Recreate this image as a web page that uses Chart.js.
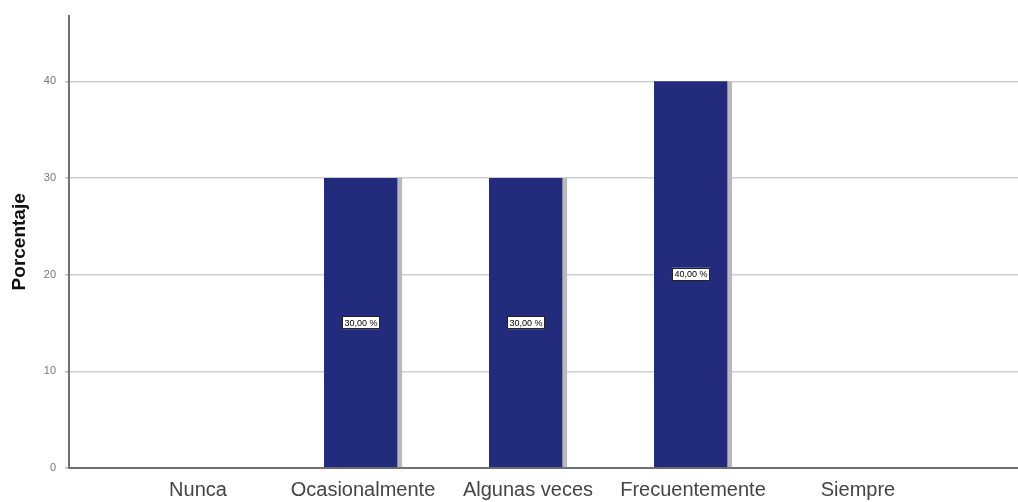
<!DOCTYPE html>
<html><head><meta charset="utf-8">
<script src="https://cdn.jsdelivr.net/npm/chart.js@4"></script>
<style>html,body{margin:0;padding:0;background:#fff;}#wrap{width:1018px;height:502px;}</style>
</head><body><div id="wrap"><canvas id="c" width="1018" height="502"></canvas></div>
<script>
const categories = ["Nunca", "Ocasionalmente", "Algunas veces", "Frecuentemente", "Siempre"];
const percentages = [0, 30, 30, 40, 0];
const valueLabels = ["", "30,00 %", "30,00 %", "40,00 %", ""];
const yTicks = [0, 10, 20, 30, 40];

const points = categories.map((c, i) => ({x: i, y: percentages[i]}));

const labelPlugin = {
  id: 'valLabels',
  afterDatasetsDraw(chart) {
    const ctx = chart.ctx;
    const meta = chart.getDatasetMeta(0);
    ctx.save();
    ctx.font = '9px "Liberation Sans", Arial, sans-serif';
    ctx.textAlign = 'center';
    ctx.textBaseline = 'middle';
    meta.data.forEach((bar, i) => {
      if (!valueLabels[i] || percentages[i] === 0) return;
      const cx = bar.x - 2;
      const cy = (bar.y + bar.base) / 2;
      const w = 38, h = 13;
      ctx.fillStyle = '#ffffff';
      ctx.fillRect(cx - w / 2, cy - h / 2, w, h);
      ctx.strokeStyle = '#222';
      ctx.lineWidth = 1;
      ctx.strokeRect(Math.round(cx - w / 2) + 0.5, Math.round(cy - h / 2) + 0.5, w - 1, h - 1);
      ctx.fillStyle = '#000';
      ctx.fillText(valueLabels[i], cx, cy + 0.5);
    });
    ctx.restore();
  }
};

new Chart(document.getElementById('c'), {
  type: 'bar',
  data: {
    datasets: [{
      data: points,
      backgroundColor: '#232b7c',
      borderColor: '#b9b9bd',
      borderWidth: {left: 0, top: 0, bottom: 0, right: 5},
      borderSkipped: false,
      barThickness: 78
    }]
  },
  plugins: [labelPlugin],
  options: {
    responsive: false,
    animation: false,
    layout: {padding: {top: 14, right: 0, bottom: 0, left: 0}},
    plugins: {legend: {display: false}, tooltip: {enabled: false}},
    scales: {
      x: {
        type: 'linear',
        offset: false,
        min: -0.782,
        max: 4.97,
        afterBuildTicks(axis) { axis.ticks = categories.map((c, i) => ({value: i})); },
        afterFit(axis) { axis.height = 34; },
        ticks: {
          callback: (v) => categories[v],
          color: '#444',
          font: {family: '"Liberation Sans", Arial, sans-serif', size: 20},
          maxRotation: 0,
          autoSkip: false,
          padding: 10
        },
        grid: {display: false, drawTicks: false},
        border: {display: true, color: '#707070', width: 2}
      },
      y: {
        min: 0,
        max: 46.8,
        afterBuildTicks(axis) { axis.ticks = yTicks.map(v => ({value: v})); },
        afterFit(axis) { axis.width = 69; },
        ticks: {
          color: '#777',
          font: {family: '"Liberation Sans", Arial, sans-serif', size: 11},
          padding: 9
        },
        grid: {
          color: (ctx) => ctx.tick && ctx.tick.value === 0 ? 'rgba(0,0,0,0)' : '#cfcfcf',
          lineWidth: 1.5,
          drawTicks: true,
          tickLength: 4,
          tickColor: '#bbb'
        },
        border: {display: true, color: '#707070', width: 2},
        title: {
          display: true,
          text: 'Porcentaje',
          color: '#111',
          font: {family: '"Liberation Sans", Arial, sans-serif', size: 19, weight: 'bold'},
          padding: {top: 8, bottom: 6}
        }
      }
    }
  }
});
</script></body></html>
